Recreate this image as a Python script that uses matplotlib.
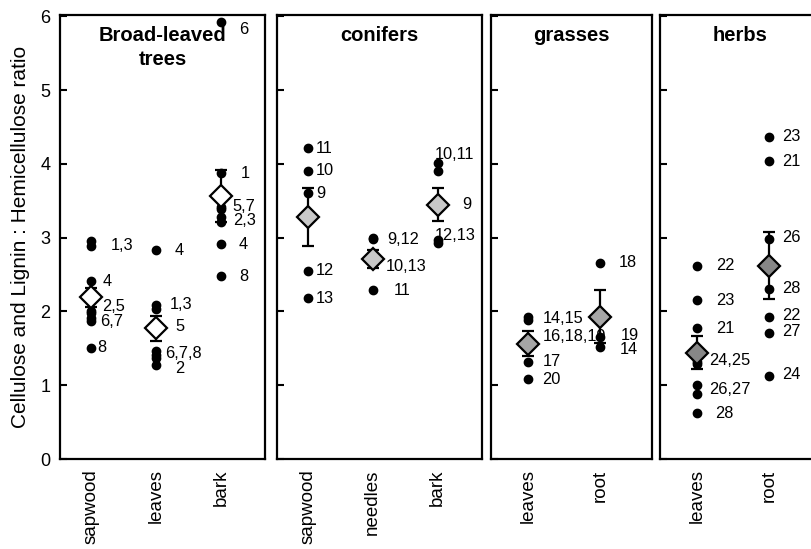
import matplotlib
matplotlib.use("Agg")
import matplotlib.pyplot as plt

plt.rcParams['font.family'] = ['Liberation Sans', 'DejaVu Sans']

# --- data ---
broad_cats = ['sapwood', 'leaves', 'bark']
broad_vals = [
    [2.96, 2.89, 2.41, 2.01, 1.98, 1.91, 1.87, 1.51],
    [2.83, 2.09, 2.04, 1.77, 1.46, 1.41, 1.37, 1.28],
    [5.93, 3.88, 3.42, 3.39, 3.28, 3.21, 2.91, 2.48],
]
broad_mean = [2.19, 1.77, 3.57]
broad_se = [0.13, 0.175, 0.35]
broad_labels = [
    [('1,3', 2.90, 20), ('4', 2.41, 11), ('2,5', 2.07, 11), ('6,7', 1.87, 9), ('8', 1.51, 6)],
    [('4', 2.83, 19), ('1,3', 2.10, 14), ('5', 1.80, 19), ('6,7,8', 1.43, 9), ('2', 1.23, 19)],
    [('6', 5.82, 18), ('1', 3.87, 20), ('5,7', 3.43, 12), ('2,3', 3.24, 12), ('4', 2.91, 18), ('8', 2.48, 18)],
]

conifer_cats = ['sapwood', 'needles', 'bark']
conifer_vals = [
    [4.21, 3.91, 3.61, 2.55, 2.18],
    [2.99, 2.98, 2.64, 2.64, 2.29],
    [4.01, 3.91, 3.45, 2.97, 2.93],
]
conifer_mean = [3.28, 2.71, 3.45]
conifer_se = [0.39, 0.12, 0.22]
conifer_labels = [
    [('11', 4.21, 8), ('10', 3.91, 8), ('9', 3.60, 9), ('12', 2.55, 8), ('13', 2.18, 8)],
    [('9,12', 2.98, 15), ('10,13', 2.61, 13), ('11', 2.29, 21)],
    [('10,11', 4.13, -3), ('9', 3.45, 24), ('12,13', 3.03, -3)],
]

grass_cats = ['leaves', 'root']
grass_vals = [
    [1.92, 1.89, 1.56, 1.55, 1.54, 1.32, 1.08],
    [2.66, 1.65, 1.52],
]
grass_mean = [1.56, 1.93]
grass_se = [0.17, 0.36]
grass_labels = [
    [('14,15', 1.90, 15), ('16,18,19', 1.66, 15), ('17', 1.32, 15), ('20', 1.08, 14)],
    [('18', 2.66, 19), ('19', 1.67, 21), ('14', 1.49, 20)],
]

herb_cats = ['leaves', 'root']
herb_vals = [
    [2.62, 2.15, 1.77, 1.31, 1.29, 1.01, 0.88, 0.62],
    [4.37, 4.04, 2.98, 2.31, 1.92, 1.71, 1.13],
]
herb_mean = [1.44, 2.62]
herb_se = [0.225, 0.455]
herb_labels = [
    [('22', 2.62, 19), ('23', 2.15, 19), ('21', 1.77, 19), ('24,25', 1.33, 12), ('26,27', 0.94, 12), ('28', 0.62, 18)],
    [('23', 4.37, 13), ('21', 4.04, 13), ('26', 3.00, 13), ('28', 2.31, 13), ('22', 1.94, 13), ('27', 1.73, 13), ('24', 1.14, 13)],
]

titles = ['Broad-leaved\ntrees', 'conifers', 'grasses', 'herbs']
fills = ['white', '#c8c8c8', '#a6a6a6', '#878787']

W, H = 811, 549
fig = plt.figure(figsize=(W / 100, H / 100), dpi=100)

bottom = 1 - 459 / H
height = 444 / H
# (left px, width px, xlim)
panels = [
    (60, 205, (0.52, 3.68)),
    (276.5, 205.5, (0.52, 3.68)),
    (491, 161, (0.49, 2.72)),
    (660, 161, (0.49, 2.72)),
]

groups = [
    (broad_cats, broad_vals, broad_mean, broad_se, broad_labels),
    (conifer_cats, conifer_vals, conifer_mean, conifer_se, conifer_labels),
    (grass_cats, grass_vals, grass_mean, grass_se, grass_labels),
    (herb_cats, herb_vals, herb_mean, herb_se, herb_labels),
]

for k, ((left, width, xlim), (cats, vals, means, ses, labels)) in enumerate(zip(panels, groups)):
    ax = fig.add_axes([left / W, bottom, width / W, height])
    xs = list(range(1, len(cats) + 1))
    for x, v in zip(xs, vals):
        ax.plot([x] * len(v), v, 'o', color='black', ms=6, zorder=2)
    ax.errorbar(xs, means, yerr=ses, fmt='D', mfc=fills[k], mec='black', mew=1.6,
                ms=11.5, ecolor='black', elinewidth=1.6, capsize=4, capthick=1.6, zorder=3)
    for x, labs in zip(xs, labels):
        for txt, y, dx in labs:
            ax.annotate(txt, (x, y), xytext=(dx * 0.72, 0), textcoords='offset points',
                        ha='left', va='center', fontsize=11.8, zorder=4)
    ax.text(0.5, 0.975, titles[k], transform=ax.transAxes, ha='center', va='top',
            fontsize=14.5, fontweight='bold', linespacing=1.3)
    ax.set_xlim(*xlim)
    ax.set_ylim(0, 6.02)
    ax.set_xticks(xs)
    ax.set_xticklabels(cats, rotation=90, fontsize=13.5)
    ax.set_yticks(range(7))
    ax.tick_params(axis='x', length=0, pad=7.5)
    ax.tick_params(axis='y', direction='in', length=5, width=1.5, labelsize=13, pad=7)
    for s in ax.spines.values():
        s.set_linewidth(1.6)
    if k == 0:
        ax.set_ylabel('Cellulose and Lignin : Hemicellulose ratio', fontsize=15, labelpad=7)
    else:
        ax.set_yticklabels([])

fig.savefig('out.png', dpi=100)
